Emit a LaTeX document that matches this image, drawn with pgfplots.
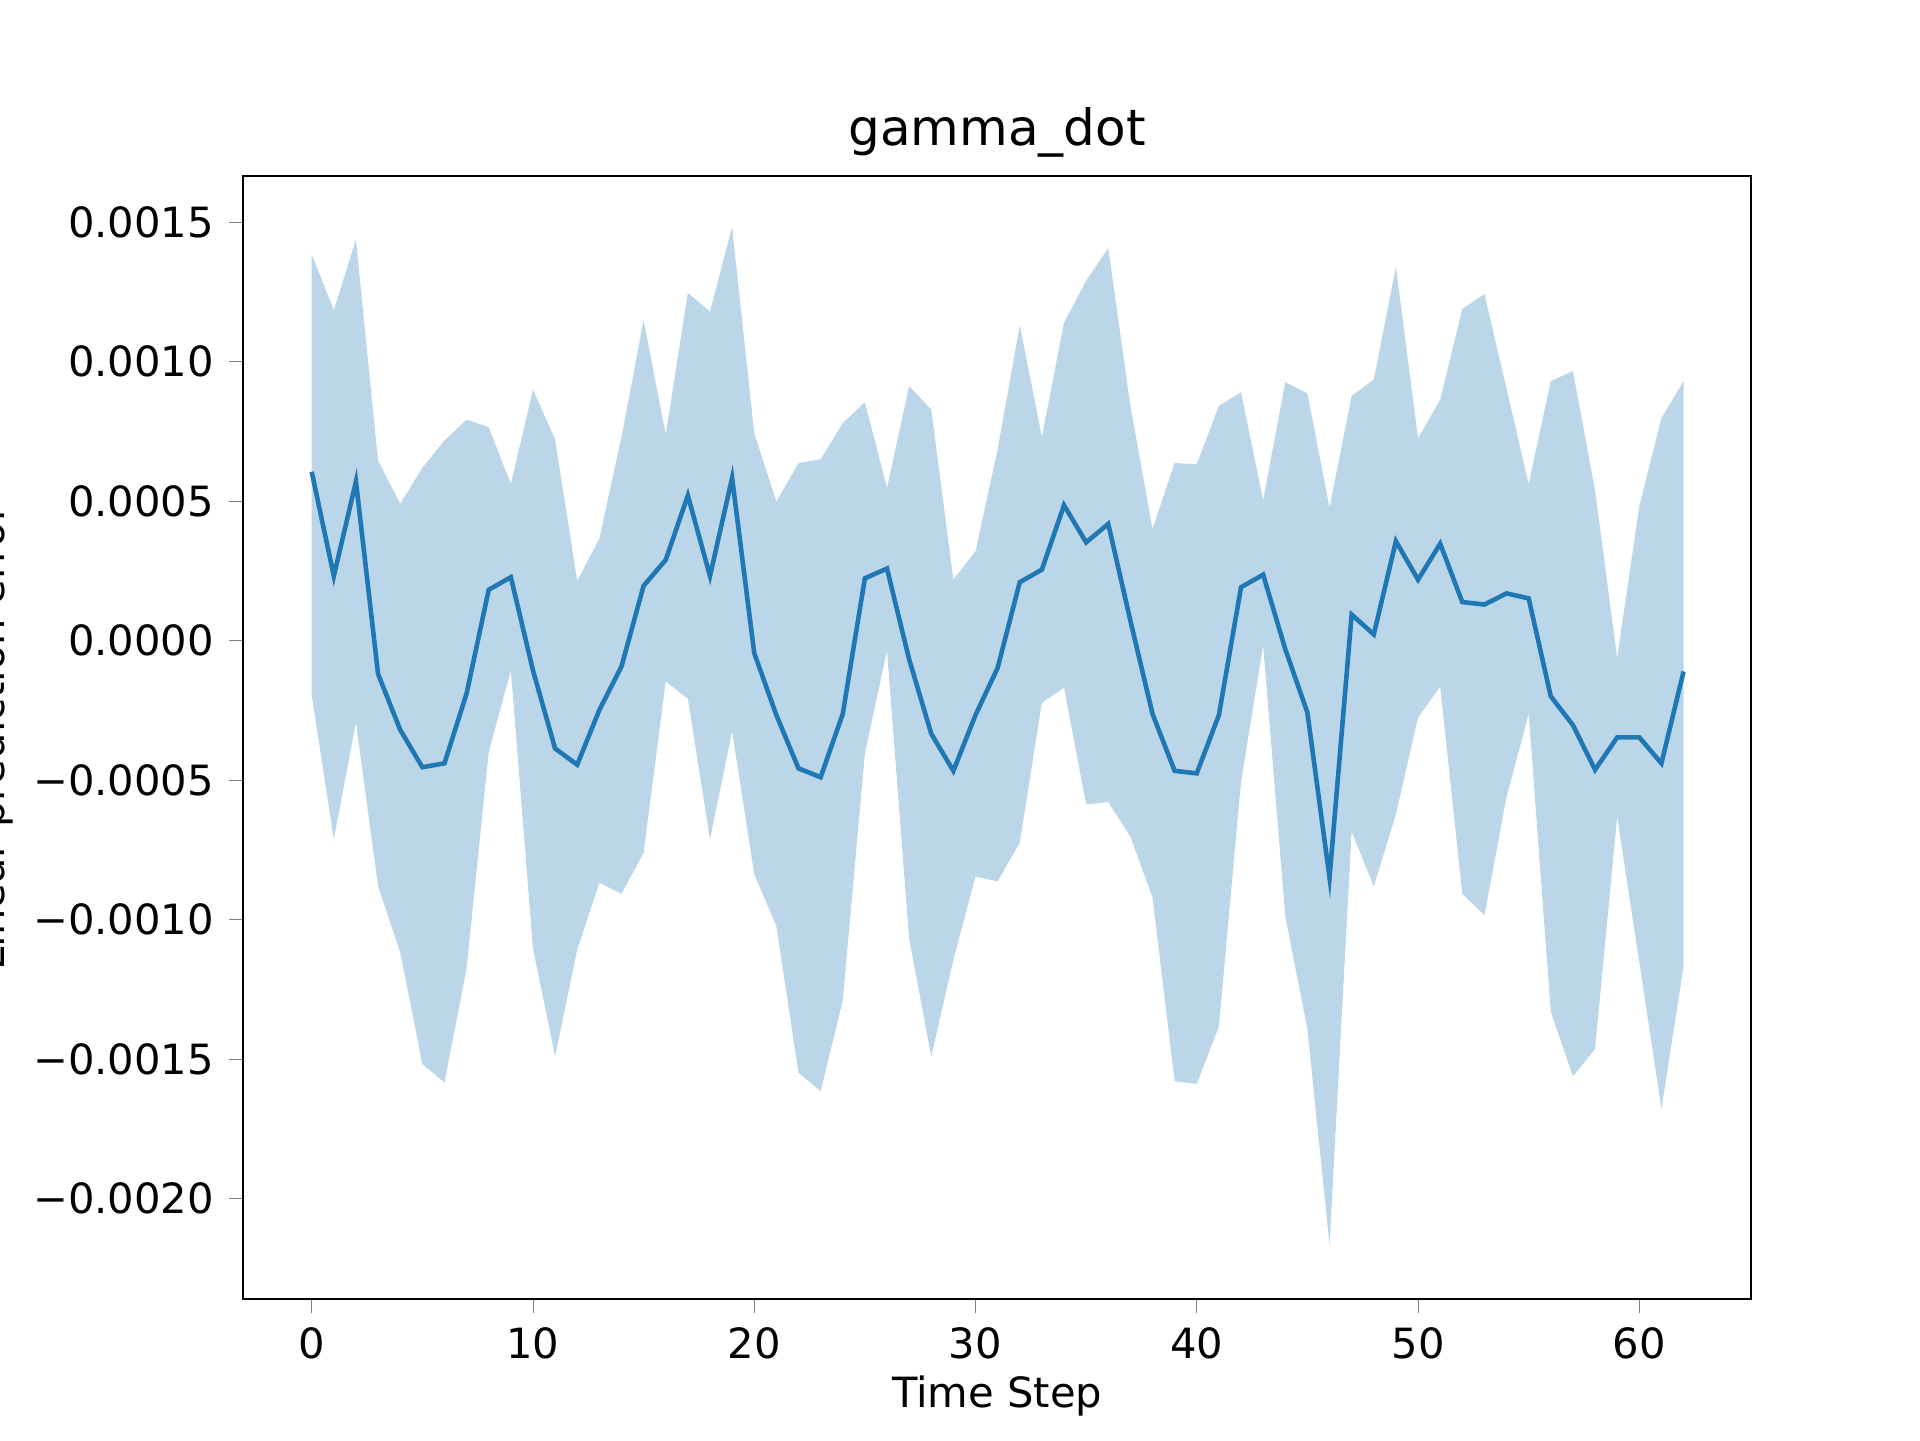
\documentclass[border=0pt]{standalone}
\usepackage{pgfplots}
\pgfplotsset{compat=1.18}
\usepgfplotslibrary{fillbetween}
\usepackage{fontspec}
\setmainfont{DejaVu Sans}
\definecolor{c0}{HTML}{1F77B4}
\begin{document}
\begin{tikzpicture}
\begin{axis}[
  scale only axis, width=361.8pt, height=269.4pt,
  xmin=-3.09, xmax=65.04, ymin=-0.002359, ymax=0.001664,
  xtick={0,10,...,60}, xticklabels={0,10,20,30,40,50,60},
  ytick={-0.002,-0.0015,-0.001,-0.0005,0,0.0005,0.001,0.0015},
  yticklabels={−0.0020,−0.0015,−0.0010,−0.0005,0.0000,0.0005,0.0010,0.0015},
  scaled y ticks=false,
  tick align=outside, xtick pos=bottom, ytick pos=left,
  major tick length=3.5pt,
  tick label style={font=\fontsize{10}{12}\selectfont},
  label style={font=\fontsize{10}{12}\selectfont},
  title style={font=\fontsize{12}{14}\selectfont, yshift=-5pt},
  title={gamma\_dot},
  xlabel={Time Step},
  xlabel style={yshift=3pt},
  ylabel={Linear prediction error},
  ylabel style={yshift=-2pt},
]
\addplot[draw=none, name path=up] coordinates {
(0,0.001384)(1,0.001184)(2,0.001437)(3,0.000645)(4,0.00049)(5,0.000619)(6,0.000717)(7,0.000792)(8,0.000765)(9,0.000561)
(10,0.000899)(11,0.000721)(12,0.000214)(13,0.000365)(14,0.00073)(15,0.001148)(16,0.000739)(17,0.001246)(18,0.001179)(19,0.001482)
(20,0.000743)(21,0.000498)(22,0.000636)(23,0.00065)(24,0.000779)(25,0.000854)(26,0.000547)(27,0.000912)(28,0.000828)(29,0.000218)
(30,0.00032)(31,0.000685)(32,0.00113)(33,0.00073)(34,0.001139)(35,0.00129)(36,0.001406)(37,0.000841)(38,0.0004)(39,0.000636)
(40,0.000632)(41,0.000841)(42,0.00089)(43,0.000503)(44,0.000926)(45,0.000886)(46,0.000476)(47,0.000877)(48,0.000935)(49,0.00134)
(50,0.000725)(51,0.000863)(52,0.001188)(53,0.001242)(54,0.000903)(55,0.000561)(56,0.00093)(57,0.000966)(58,0.000538)(59,-0.000062)
(60,0.000481)(61,0.000797)(62,0.00093)};
\addplot[draw=none, name path=lo] coordinates {
(0,-0.000196)(1,-0.000712)(2,-0.000294)(3,-0.000881)(4,-0.001117)(5,-0.001518)(6,-0.001584)(7,-0.001175)(8,-0.0004)(9,-0.000107)
(10,-0.001104)(11,-0.001491)(12,-0.001108)(13,-0.000868)(14,-0.000908)(15,-0.000761)(16,-0.000147)(17,-0.000209)(18,-0.000712)(19,-0.000325)
(20,-0.000837)(21,-0.001024)(22,-0.001549)(23,-0.001615)(24,-0.001291)(25,-0.000405)(26,-0.000036)(27,-0.001068)(28,-0.001491)(29,-0.001144)
(30,-0.000846)(31,-0.000863)(32,-0.000725)(33,-0.000223)(34,-0.000169)(35,-0.000587)(36,-0.000579)(37,-0.000703)(38,-0.000921)(39,-0.00158)
(40,-0.001589)(41,-0.001384)(42,-0.000507)(43,-0.000018)(44,-0.000988)(45,-0.001393)(46,-0.002167)(47,-0.000685)(48,-0.000881)(49,-0.000623)
(50,-0.000276)(51,-0.000165)(52,-0.000908)(53,-0.000984)(54,-0.000561)(55,-0.000263)(56,-0.001331)(57,-0.001562)(58,-0.001464)(59,-0.000632)
(60,-0.001153)(61,-0.001678)(62,-0.00117)};
\addplot[c0, fill opacity=0.3, draw=none] fill between[of=up and lo];
\addplot[c0, line width=1.1pt, mark=none] coordinates {
(0,0.000605)(1,0.000231)(2,0.00057)(3,-0.00012)(4,-0.00032)(5,-0.000454)(6,-0.00044)(7,-0.00019)(8,0.000182)(9,0.000227)
(10,-0.000107)(11,-0.000387)(12,-0.000445)(13,-0.000249)(14,-0.000093)(15,0.000196)(16,0.000289)(17,0.00052)(18,0.000231)(19,0.000583)
(20,-0.000045)(21,-0.000267)(22,-0.000458)(23,-0.00049)(24,-0.000263)(25,0.000223)(26,0.000258)(27,-0.000067)(28,-0.000334)(29,-0.000467)
(30,-0.000267)(31,-0.000098)(32,0.000209)(33,0.000254)(34,0.000485)(35,0.000352)(36,0.000418)(37,0.000071)(38,-0.000263)(39,-0.000467)
(40,-0.000476)(41,-0.000267)(42,0.000191)(43,0.000236)(44,-0.000031)(45,-0.000258)(46,-0.00085)(47,0.000093)(48,0.000022)(49,0.000356)
(50,0.000218)(51,0.000347)(52,0.000138)(53,0.000129)(54,0.000169)(55,0.000151)(56,-0.0002)(57,-0.000303)(58,-0.000463)(59,-0.000347)
(60,-0.000347)(61,-0.00044)(62,-0.000111)};
\end{axis}
\pgfresetboundingbox
\path (current axis.south west) ++(-58.4pt,-34pt) rectangle ++(460.8pt,345.7pt);
\end{tikzpicture}
\end{document}
